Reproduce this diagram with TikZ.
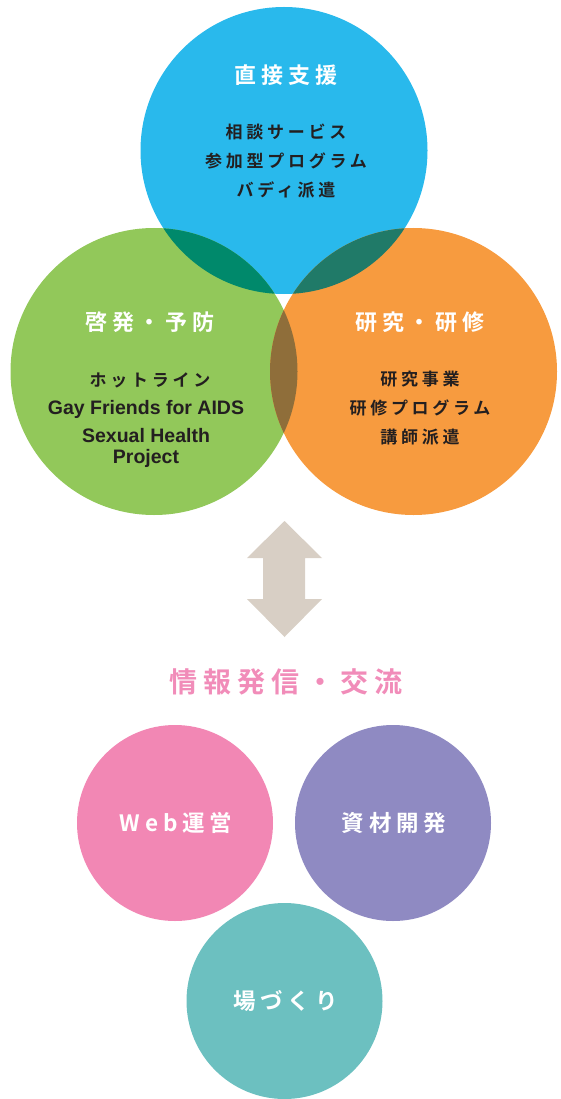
\documentclass[tikz,border=0pt]{standalone}
\usepackage{fontspec}
\usepackage{xcolor}
\setmainfont{Noto Sans CJK JP}[BoldFont={Noto Sans CJK JP Bold}]
\newfontfamily\jpwide{Noto Sans CJK JP}[BoldFont={Noto Sans CJK JP Bold},LetterSpace=22]
\newfontfamily\enfont{Liberation Sans}
\definecolor{direct-blue}{HTML}{29B9EC}
\definecolor{prevent-green}{HTML}{92C85A}
\definecolor{study-orange}{HTML}{F79B3F}
\definecolor{blue-green}{HTML}{00896B}
\definecolor{blue-orange}{HTML}{207A68}
\definecolor{green-orange}{HTML}{8F6E3A}
\definecolor{arrow-grey}{HTML}{D8CFC5}
\definecolor{web-pink}{HTML}{F287B4}
\definecolor{doc-purple}{HTML}{8F8AC2}
\definecolor{place-teal}{HTML}{6CC0C0}
\definecolor{title-pink}{HTML}{F18CB9}
\definecolor{text-dark}{HTML}{231F20}
\tikzset{
    big-circle/.style = {circle, inner sep=0pt, minimum size=287pt},
    small-circle/.style = {circle, inner sep=0pt, minimum size=196pt, text=white, font=\jpwide\bfseries\fontsize{22.5}{23}\selectfont},
    area-title/.style = {text=white, font=\jpwide\bfseries\fontsize{22}{22}\selectfont},
    area-items/.style = {text=text-dark, align=center, font=\jpwide\bfseries\fontsize{17}{29}\selectfont},
    en-items/.style = {text=text-dark, align=center, font=\enfont\bfseries\fontsize{19.5}{21}\selectfont},
}
\def\R{143.5}

\begin{document}
\begin{tikzpicture}[x=1pt, y=-1pt]
\useasboundingbox (0,0) rectangle (561,1099);
% three areas
\coordinate (c-direct) at (284,150.5);
\coordinate (c-prevent) at (154,371.5);
\coordinate (c-study) at (413.5,371.5);
\node [big-circle, fill=direct-blue] (direct) at (c-direct) {};
\node [big-circle, fill=prevent-green] (prevent) at (c-prevent) {};
\node [big-circle, fill=study-orange] (study) at (c-study) {};
% overlaps
\begin{scope}
    \clip (c-direct) circle (\R);
    \fill [blue-green] (c-prevent) circle (\R);
    \fill [blue-orange] (c-study) circle (\R);
\end{scope}
\begin{scope}
    \clip (c-prevent) circle (\R);
    \fill [green-orange] (c-study) circle (\R);
\end{scope}
% texts
\node [area-title] (direct-title) at (286,75) {直接支援};
\node [area-items] (direct-items) at (286,161.5) {相談サービス\\参加型プログラム\\バディ派遣};
\node [area-title] (prevent-title) at (150,322) {啓発・予防};
\node [area-items] (prevent-items) at (150,380) {ホットライン};
\node [en-items] (prevent-en) at (146,434) {Gay Friends for AIDS\\[7pt]Sexual Health\\Project};
\node [area-title] (study-title) at (420,322) {研究・研修};
\node [area-items] (study-items) at (420,408.5) {研究事業\\研修プログラム\\講師派遣};
% arrow
\fill [arrow-grey] (284.5,521) -- (322,558) -- (305,558) -- (305,599) -- (322,599)
    -- (284.5,637) -- (247,599) -- (263,599) -- (263,558) -- (247,558) -- cycle;
\node [text=title-pink, font=\jpwide\bfseries\fontsize{28}{29}\selectfont] (info-title) at (286,682) {情報発信・交流};
% bottom areas
\node [small-circle, fill=web-pink] (web) at (175,823) {\hspace*{2pt}Web運営};
\node [small-circle, fill=doc-purple] (docs) at (393,823) {\hspace*{2pt}資材開発};
\node [small-circle, fill=place-teal] (place) at (284.5,1001) {\hspace*{2pt}場づくり};
\end{tikzpicture}
\end{document}
